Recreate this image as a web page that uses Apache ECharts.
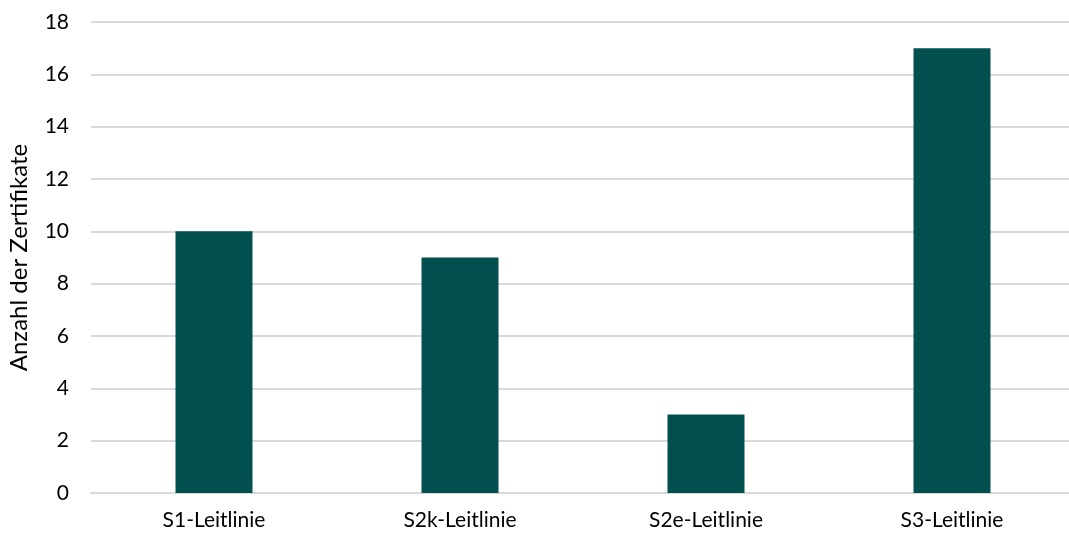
<!DOCTYPE html>
<html>
<head>
<meta charset="utf-8">
<script src="https://cdn.jsdelivr.net/npm/echarts@6/dist/echarts.min.js"></script>
<style>
  html, body { margin: 0; padding: 0; background: #fff; }
  #chart { width: 1069px; height: 534px; }
</style>
</head>
<body>
<div id="chart"></div>
<script>
// Zertifikate je Leitlinien-Klasse
const categories = ['S1-Leitlinie', 'S2k-Leitlinie', 'S2e-Leitlinie', 'S3-Leitlinie'];
const certificates = [10, 9, 3, 17];
const yAxisTitle = 'Anzahl der Zertifikate';

const font = 'Lato, "Open Sans", sans-serif';
const chart = echarts.init(document.getElementById('chart'));
chart.setOption({
  animation: false,
  grid: { left: 91, right: -6, top: 22, bottom: 41, containLabel: false, outerBoundsMode: 'none' },
  xAxis: {
    type: 'category',
    data: categories,
    axisTick: { show: false },
    axisLine: { show: true, lineStyle: { color: '#d9d9d9', width: 2 } },
    axisLabel: { color: '#000', fontSize: 21, fontFamily: font, margin: 17 }
  },
  yAxis: {
    type: 'value',
    min: 0, max: 18, interval: 2,
    name: yAxisTitle,
    nameLocation: 'middle',
    nameGap: 60,
    nameTextStyle: { color: '#000', fontSize: 24, fontFamily: font },
    axisLine: { show: false },
    axisTick: { show: false },
    axisLabel: { color: '#000', fontSize: 21, fontFamily: font, margin: 22 },
    splitLine: { lineStyle: { color: '#d9d9d9', width: 2 } }
  },
  series: [{
    type: 'bar',
    data: certificates,
    barWidth: '31.3%',
    itemStyle: { color: '#024f4f' }
  }]
});
</script>
</body>
</html>
